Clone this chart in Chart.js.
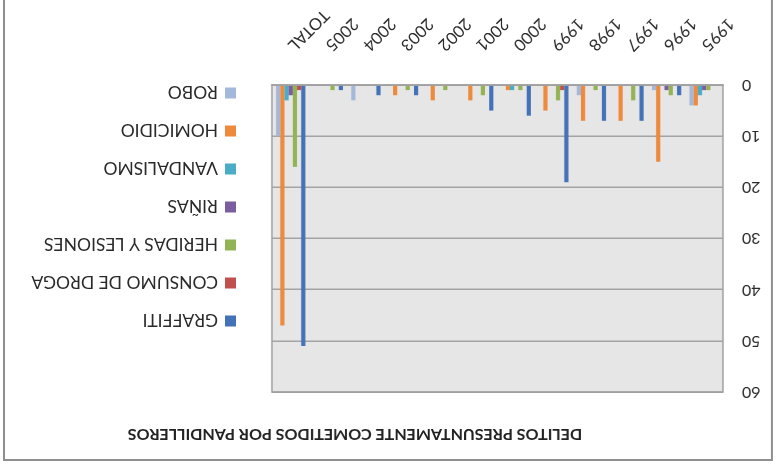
<!DOCTYPE html>
<html>
<head>
<meta charset="utf-8">
<script src="https://cdn.jsdelivr.net/npm/chart.js@4/dist/chart.umd.min.js"></script>
<style>
  html, body { margin: 0; padding: 0; background: #fff; }
  #chart { display: block; transform: rotate(180deg); }
</style>
</head>
<body>
<canvas id="chart" width="776" height="469"></canvas>
<script>
const years = ['1995', '1996', '1997', '1998', '1999', '2000', '2001', '2002', '2003', '2004', '2005', 'TOTAL'];
const seriesNames = ['GRAFFITI', 'CONSUMO DE DROGA', 'HERIDAS Y LESIONES', 'RIÑAS', 'VANDALISMO', 'HOMICIDIO', 'ROBO'];

const graffiti   = [0, 2, 7, 7, 19, 6, 5, 0, 2, 2, 1, 51];
const consumo    = [0, 0, 0, 0, 1, 0, 0, 0, 0, 0, 0, 1];
const heridas    = [1, 2, 3, 1, 3, 1, 2, 1, 1, 0, 1, 16];
const rinas      = [1, 1, 0, 0, 0, 0, 0, 0, 0, 0, 0, 2];
const vandalismo = [2, 0, 0, 0, 0, 1, 0, 0, 0, 0, 0, 3];
const homicidio  = [4, 15, 7, 7, 5, 1, 3, 3, 2, 0, 0, 47];
const robo       = [4, 1, 0, 2, 0, 0, 0, 0, 0, 3, 0, 10];

const yTicks = [0, 10, 20, 30, 40, 50, 60];
const colors = ['#4472b8', '#c0504d', '#94b454', '#7a5ea0', '#4bacc6', '#ee8a3c', '#a4b8db'];
const title = 'DELITOS PRESUNTAMENTE COMETIDOS POR PANDILLEROS';

const FONT = 'Lato, "Open Sans", sans-serif';

const values = [graffiti, consumo, heridas, rinas, vandalismo, homicidio, robo];

// plot background, frame, legend and title
const decor = {
    id: 'decor',
    beforeDraw(chart) {
        const { ctx, chartArea: a } = chart;
        ctx.save();
        ctx.fillStyle = '#fff';
        ctx.fillRect(0, 0, chart.width, chart.height);
        ctx.fillStyle = '#e7e6e6';
        ctx.fillRect(a.left, a.top, a.right - a.left, a.bottom - a.top);
        ctx.restore();
    },
    afterDraw(chart) {
        const { ctx, chartArea: a } = chart;
        ctx.save();
        ctx.strokeStyle = '#a0a0a0';
        ctx.lineWidth = 1.5;
        ctx.strokeRect(a.left, a.top, a.right - a.left, a.bottom - a.top);

        // outer frame
        ctx.strokeStyle = '#8f8f8f';
        ctx.lineWidth = 2;
        ctx.strokeRect(4, 9, 768, 470);

        // title
        ctx.fillStyle = '#222';
        ctx.font = 'bold 16px ' + FONT;
        ctx.textAlign = 'center';
        ctx.textBaseline = 'middle';
        ctx.fillText(title, 421, 35);

        // legend
        ctx.font = '17.5px ' + FONT;
        ctx.textAlign = 'left';
        chart.data.datasets.forEach((ds, i) => {
            const y = 148 + i * 38;
            ctx.fillStyle = ds.backgroundColor;
            ctx.fillRect(540, y - 5.5, 11, 11);
            ctx.fillStyle = '#2a2a2a';
            ctx.fillText(ds.label, 558, y + 1);
        });
        ctx.restore();
    }
};

new Chart(document.getElementById('chart'), {
    type: 'bar',
    data: {
        labels: years,
        datasets: seriesNames.map((name, i) => ({
            label: name,
            data: values[i],
            backgroundColor: colors[i],
            borderWidth: 0,
            categoryPercentage: 0.78,
            barPercentage: 1
        }))
    },
    options: {
        responsive: false,
        animation: false,
        layout: { padding: { left: 0, right: 272, top: 77, bottom: 0 } },
        plugins: {
            legend: { display: false },
            title: { display: false },
            tooltip: { enabled: false }
        },
        scales: {
            x: {
                grid: { display: false },
                border: { color: '#a0a0a0', width: 1.5 },
                ticks: {
                    autoSkip: false,
                    minRotation: 45,
                    maxRotation: 45,
                    padding: 22,
                    color: '#2a2a2a',
                    font: { family: FONT, size: 16.5 }
                },
                afterFit: s => { s.height = 85; }
            },
            y: {
                min: 0,
                max: 60,
                afterBuildTicks: s => { s.ticks = yTicks.map(v => ({ value: v })); },
                grid: { color: '#a3a3a3', lineWidth: 1.5, drawTicks: false },
                border: { display: false },
                ticks: {
                    padding: 19,
                    color: '#2a2a2a',
                    font: { family: FONT, size: 16 }
                },
                afterFit: s => { s.width = 53; }
            }
        }
    },
    plugins: [decor]
});
</script>
</body>
</html>
